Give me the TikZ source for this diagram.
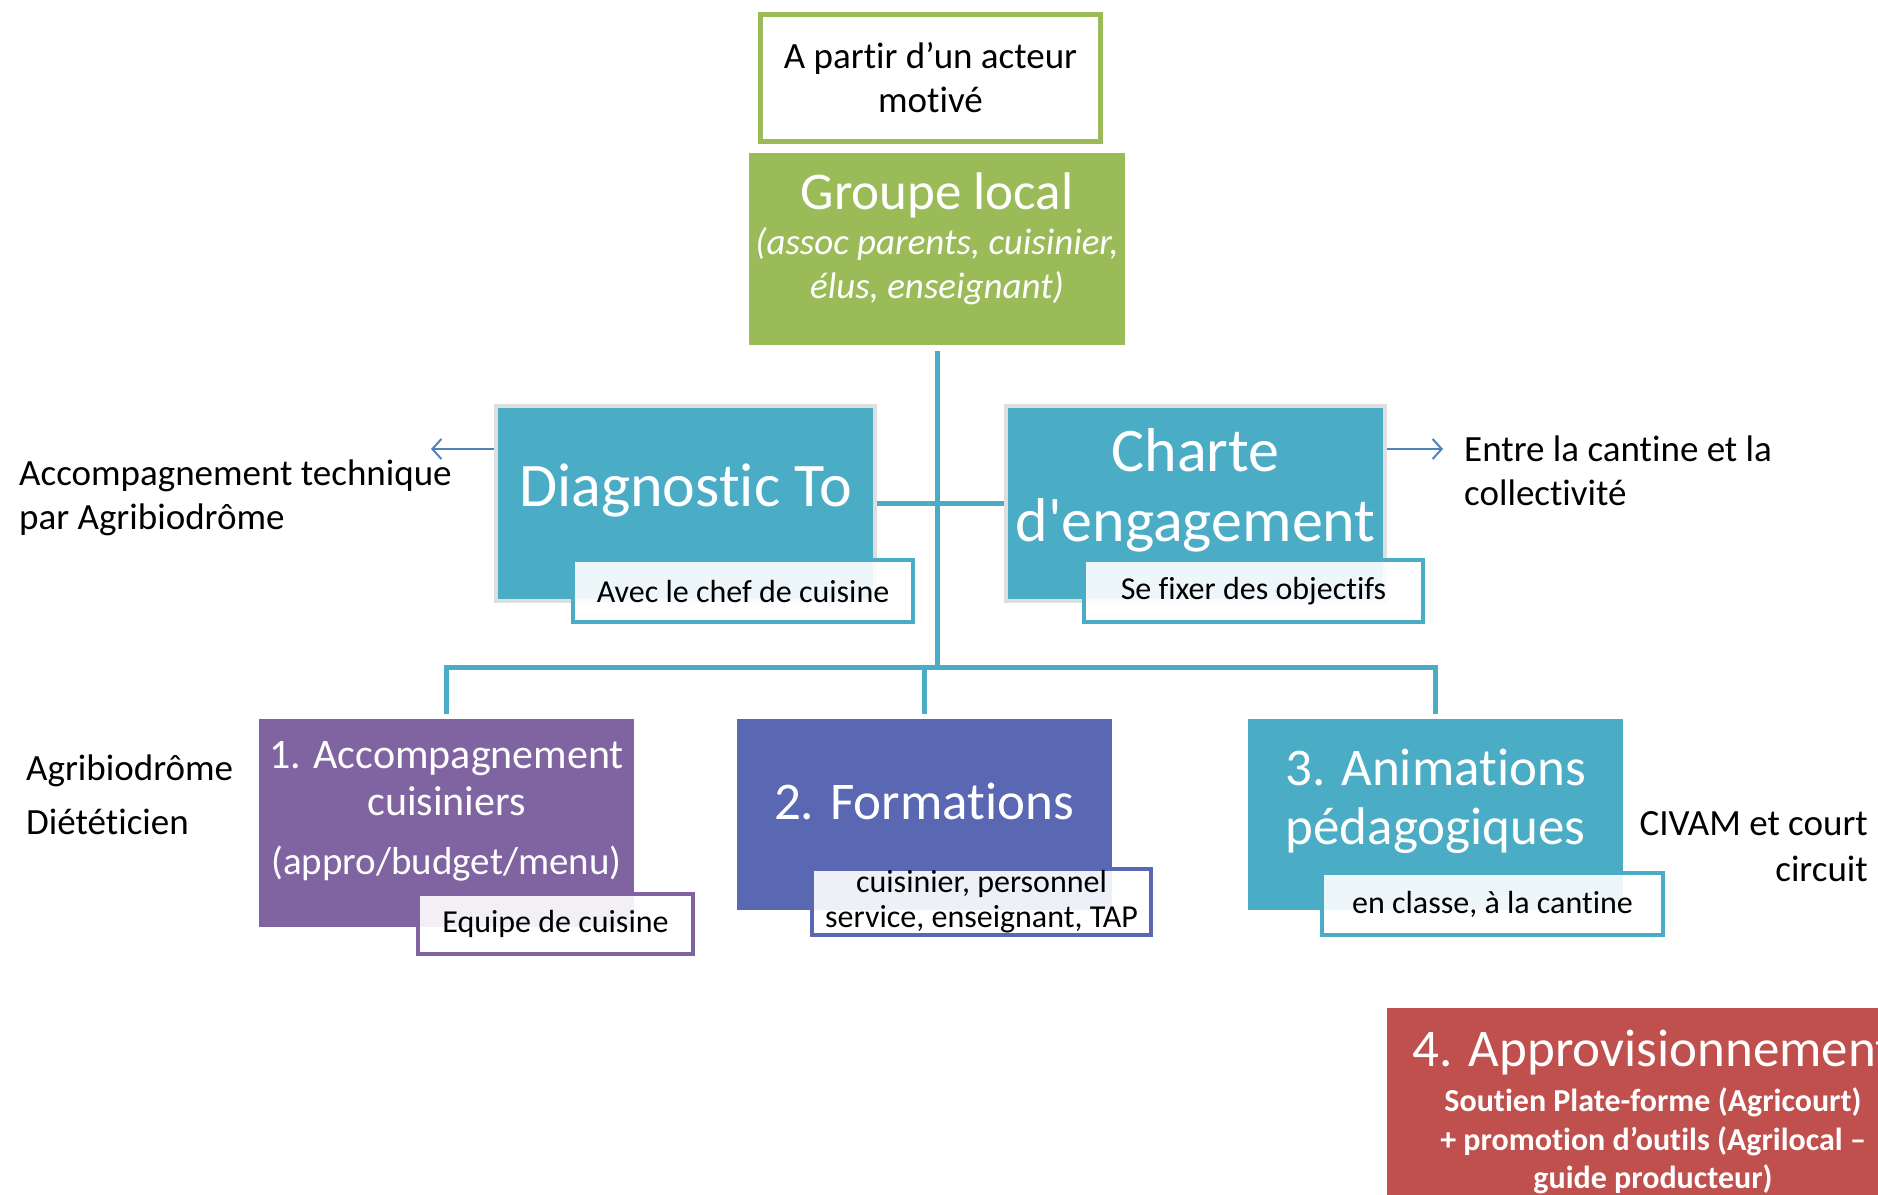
\documentclass[tikz,border=0pt]{standalone}
\usepackage{fontspec}
\setmainfont{Carlito}[Ligatures={TeX,NoCommon,NoContextual}, Contextuals=NoAlternate]
\usepackage{tikz}
\usetikzlibrary{arrows.meta,positioning}
\usepackage{xcolor}
\definecolor{vert}{HTML}{9BBB59}
\definecolor{turquoise}{HTML}{4BACC6}
\definecolor{violet}{HTML}{8064A2}
\definecolor{indigo}{RGB}{90,103,178}
\definecolor{rouge}{HTML}{C0504D}
\definecolor{bleu}{HTML}{4F81BD}
\definecolor{gris}{HTML}{DEDEDE}
\def\titreA{\fontsize{62}{70}\selectfont}
\def\titreB{\fontsize{53}{59}\selectfont}
\def\titreC{\fontsize{42}{47}\selectfont}
\def\texte{\fontsize{37}{44}\selectfont}
\def\petit{\fontsize{32}{35}\selectfont}

\tikzset{
  bloc/.style={rectangle, inner sep=0pt, minimum width=375pt},
  cadre/.style={bloc, draw=gris, line width=4pt, minimum width=379pt, minimum height=195pt, fill=turquoise},
  sousbloc/.style={rectangle, inner sep=0pt, line width=4pt, fill=white, fill opacity=.9, text opacity=1, align=center, font=\petit},
  blanc/.style={text=white, align=center, inner sep=0pt},
  note/.style={align=left, inner sep=0pt, font=\texte},
  lien/.style={draw=turquoise, line width=5pt},
  fleche/.style={draw=bleu, line width=2pt, -{Straight Barb[length=9pt,width=20pt]}}
}

\begin{document}
\begin{tikzpicture}[x=1pt, y=-1pt]
    \useasboundingbox (0,0) rectangle (1878,1194);
    \clip (0,0) rectangle (1878,1194);
    \fill[white] (0,0) rectangle (1878,1194);

    % haut
    \node[rectangle, draw=vert, line width=5pt, minimum width=340pt, minimum height=127pt, align=center, font=\texte, inner sep=0pt] (acteur) at (930.5,78) {A partir d’un acteur\\motivé};
    \node[bloc, fill=vert, minimum width=376pt, minimum height=192pt] (groupe) at (937,249) {};
    \node[blanc, font=\titreB] (groupeT) at (937,195) {Groupe local};
    \node[blanc, font=\texte\itshape] (groupeS) at (937,266) {(assoc parents, cuisinier,\\élus, enseignant)};

    % diagnostic et charte
    \node[cadre] (diag) at (685.5,503.5) {};
    \node[blanc, font=\titreA] (diagT) at (685.5,490) {Diagnostic To};
    \node[cadre] (charte) at (1195.5,503.5) {};
    \node[blanc, font=\titreA] (charteT) at (1195.5,490) {Charte\\d\textquotesingle engagement};

    % liens
    \coordinate (embr) at (937,668);
    \draw[lien] ([yshift=-6pt]groupe.south) -- (embr);
    \draw[lien] (diag.east) -- (charte.west);

    % actions
    \node[bloc, fill=violet, minimum height=208pt] (accomp) at (446.5,823) {};
    \node[blanc, font=\titreC] (accompT) at (446.5,811) {1. Accompagnement\\cuisiniers\\[12pt]{\fontsize{39}{47}\selectfont(appro/budget/menu)}};
    \node[bloc, fill=indigo, minimum height=191pt] (form) at (924,814.5) {};
    \node[blanc, font=\titreB] (formT) at (924,801) {2. Formations};
    \node[bloc, fill=turquoise, minimum height=191pt] (anim) at (1435.5,814.5) {};
    \node[blanc, font=\titreB] (animT) at (1435.5,801.5) {3. Animations\\pédagogiques};
    \node[bloc, fill=rouge, minimum width=532pt, minimum height=230pt, anchor=north west] (appro) at (1387,1008) {};
    \node[blanc, font=\titreB] (approT) at (1653,1053) {4. Approvisionnement};
    \node[blanc, font=\fontsize{32}{38.5}\selectfont\bfseries] (approS) at (1653,1141) {Soutien Plate-forme (Agricourt)\\+ promotion d’outils (Agrilocal –\\guide producteur)};

    \draw[lien] ([yshift=5pt]accomp.north) -- ([yshift=51pt]accomp.north) -| ([yshift=5pt]anim.north);
    \draw[lien] ([yshift=5pt]form.north) -- ([yshift=51pt]form.north);

    % sous-blocs
    \node[sousbloc, draw=turquoise, minimum width=340pt, minimum height=62pt] (chef) at (743,591) {Avec le chef de cuisine};
    \node[sousbloc, draw=turquoise, minimum width=339pt, minimum height=62pt] (objectifs) at (1253.5,591) {Se fixer des objectifs};
    \node[sousbloc, draw=violet, minimum width=275pt, minimum height=60pt] (equipe) at (555.5,924) {Equipe de cuisine};
    \node[sousbloc, draw=indigo, minimum width=339pt, minimum height=66pt] (public) at (981.5,902) {cuisinier, personnel\\service, enseignant, TAP};
    \node[sousbloc, draw=turquoise, minimum width=341pt, minimum height=62pt] (lieux) at (1492.5,904) {en classe, à la cantine};

    % notes
    \coordinate (gauche) at (431,449);
    \coordinate (droite) at (1443,449);
    \draw[fleche] ([yshift=54.5pt]diag.west) -- (gauche);
    \draw[fleche] ([yshift=54.5pt]charte.east) -- (droite);
    \node[note, anchor=west] (technique) at (19,497.5) {Accompagnement technique\\par Agribiodrôme};
    \node[note, anchor=west] (collectivite) at (1464,471) {Entre la cantine et la\\collectivité};
    \node[note, anchor=west, font=\fontsize{37}{54}\selectfont] (dieteticien) at (26,795) {Agribiodrôme\\Diététicien};
    \node[note, anchor=east, align=right, font=\fontsize{37}{46}\selectfont] (civam) at (1868,847) {CIVAM et court\\circuit};
\end{tikzpicture}
\end{document}
